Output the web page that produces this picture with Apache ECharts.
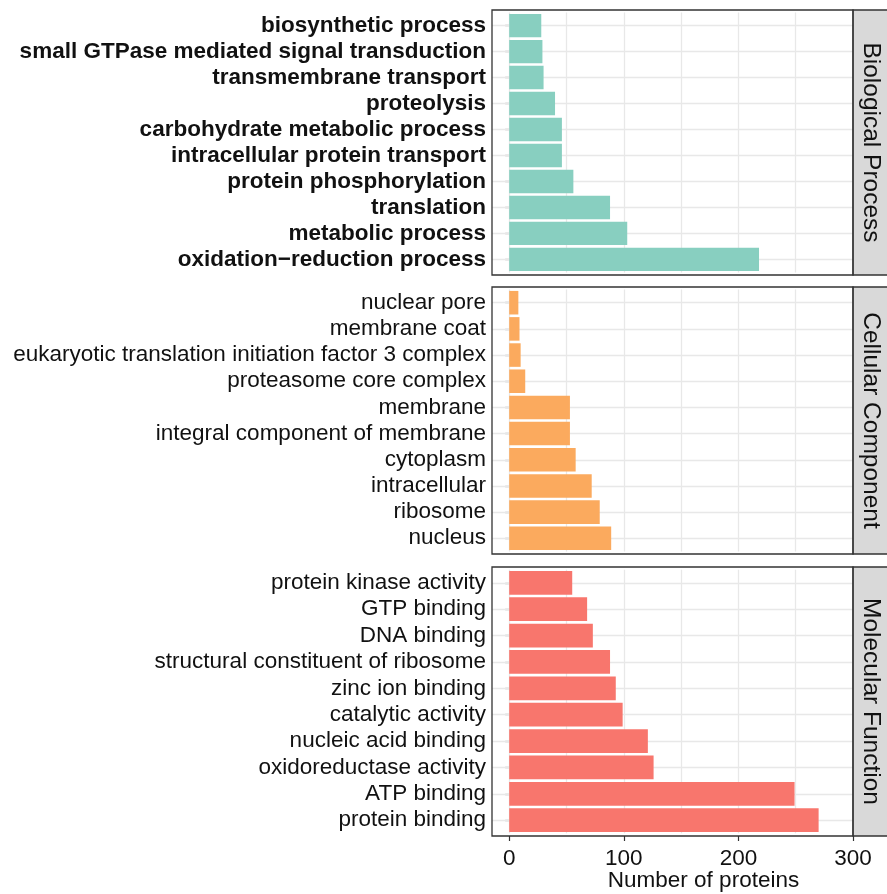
<!DOCTYPE html>
<html><head><meta charset="utf-8">
<script src="https://cdn.jsdelivr.net/npm/echarts@6/dist/echarts.min.js"></script>
<style>html,body{margin:0;padding:0;background:#fff}#c{width:887px;height:894px}</style>
</head><body><div id="c"></div>
<script>
// ---- data ----
const bpCategories = ['biosynthetic process','small GTPase mediated signal transduction','transmembrane transport','proteolysis','carbohydrate metabolic process','intracellular protein transport','protein phosphorylation','translation','metabolic process','oxidation\u2212reduction process'];
const bpValues = [28, 29, 30, 40, 46, 46, 56, 88, 103, 218];
const ccCategories = ['nuclear pore','membrane coat','eukaryotic translation initiation factor 3 complex','proteasome core complex','membrane','integral component of membrane','cytoplasm','intracellular','ribosome','nucleus'];
const ccValues = [8, 9, 10, 14, 53, 53, 58, 72, 79, 89];
const mfCategories = ['protein kinase activity','GTP binding','DNA binding','structural constituent of ribosome','zinc ion binding','catalytic activity','nucleic acid binding','oxidoreductase activity','ATP binding','protein binding'];
const mfValues = [55, 68, 73, 88, 93, 99, 121, 126, 249, 270];
const panelNames = ['Biological Process','Cellular Component','Molecular Function'];
const xTicks = [0, 100, 200, 300];
const xGridValues = [0, 50, 100, 150, 200, 250, 300];
const axisTitle = 'Number of proteins';

// ---- layout / style ----
const FONT = '"Liberation Sans", Arial, Helvetica, sans-serif';
const colors = ['#88cfc0', '#fbaa5e', '#f8766d'];
const panels = [{top:10,bottom:275},{top:287,bottom:554},{top:567,bottom:836}];
const PL = 492, PR = 853;
const cats = [bpCategories, ccCategories, mfCategories];
const vals = [bpValues, ccValues, mfValues];

const grids = [], xAxes = [], yAxes = [], series = [], graphics = [];
panels.forEach((p, i) => {
  const H = p.bottom - p.top;
  const band = H / 10.2;
  const inset = 0.1 * band;
  const last = i === 2;
  grids.push({left: PL, width: PR - PL, top: p.top + inset, height: H - 2 * inset, outerBoundsMode: 'none', show: false});
  xAxes.push({
    type: 'value', gridIndex: i, min: -15, max: 300,
    offset: last ? inset : 0,
    splitLine: {show: false}, axisLine: {show: false},
    axisTick: {show: last, length: 5, customValues: xTicks, lineStyle: {color: '#333', width: 1.2}},
    axisLabel: {show: last, customValues: xTicks, fontSize: 22.5, color: '#111', margin: 11, fontFamily: FONT}
  });
  yAxes.push({
    type: 'category', gridIndex: i, data: cats[i], inverse: true,
    axisLine: {show: false}, splitLine: {show: false},
    axisTick: {show: true, alignWithLabel: true, interval: 0, length: 4, lineStyle: {color: '#333', width: 1.2}},
    axisLabel: {interval: 0, fontSize: 22.5, fontWeight: i === 0 ? 'bold' : 'normal', color: '#111', margin: 6, fontFamily: FONT}
  });
  series.push({
    type: 'bar', xAxisIndex: i, yAxisIndex: i, data: vals[i], barWidth: '90%',
    itemStyle: {color: colors[i]}, z: 2, silent: true, animation: false,
    markLine: {
      silent: true, z: 1, symbol: ['none', 'none'], label: {show: false}, animation: false,
      lineStyle: {color: '#e8e8e8', width: 1.3, type: 'solid'},
      emphasis: {disabled: true},
      data: xGridValues.map(v => ({xAxis: v})).concat(cats[i].map((c, k) => ({yAxis: k})))
    }
  });
  graphics.push({type: 'rect', silent: true, z: 100, shape: {x: PL, y: p.top, width: PR - PL, height: H}, style: {fill: 'none', stroke: '#333', lineWidth: 1.3}});
  graphics.push({type: 'rect', silent: true, z: 99, shape: {x: PR, y: p.top, width: 40, height: H}, style: {fill: '#d9d9d9', stroke: '#333', lineWidth: 1.3}});
  graphics.push({type: 'text', silent: true, z: 101, x: 870.5, y: (p.top + p.bottom) / 2, rotation: -Math.PI / 2,
    style: {text: panelNames[i], fontSize: 24.5, fontFamily: FONT, fill: '#111', align: 'center', verticalAlign: 'middle'}});
});
graphics.push({type: 'text', silent: true, z: 101, x: 703.5, y: 881,
  style: {text: axisTitle, fontSize: 22.5, fontFamily: FONT, fill: '#111', align: 'center', verticalAlign: 'middle'}});

const chart = echarts.init(document.getElementById('c'), null, {renderer: 'canvas'});
chart.setOption({
  backgroundColor: '#fff',
  animation: false,
  grid: grids, xAxis: xAxes, yAxis: yAxes, series: series, graphic: graphics
});
</script></body></html>
